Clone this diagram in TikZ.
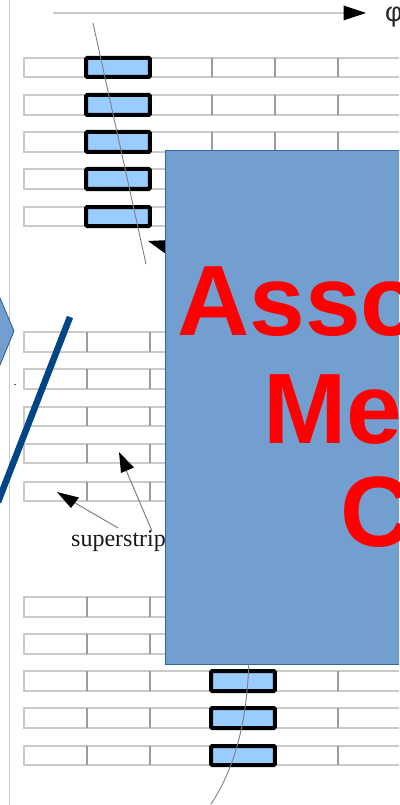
\documentclass[tikz,border=0pt]{standalone}
\usepackage{fontspec}
\setmainfont{Liberation Serif}
\newfontfamily\redsans{Liberation Sans}
\definecolor{panel}{HTML}{729FCF}
\definecolor{panelline}{HTML}{3465A4}
\definecolor{deepblue}{HTML}{004586}
\definecolor{hit}{HTML}{99CCFF}
\definecolor{gridh}{HTML}{CACACA}
\definecolor{gridv}{HTML}{9C9C9C}
\tikzset{
  x=1pt,y=-1pt,
  rowline/.style={draw=gridh,line width=1.1pt},
  cellline/.style={draw=gridv,line width=1.2pt},
  hitbox/.style={draw=black,fill=hit,line width=4pt,rounded corners=1pt},
  trackline/.style={draw=gray,line width=0.9pt},
  tiptri/.style={fill=black,draw=none},
  bigred/.style={text=red,font=\redsans\bfseries\fontsize{100}{100}\selectfont,anchor=base west,inner sep=0pt},
}
\begin{document}
\begin{tikzpicture}
\useasboundingbox (0,0) rectangle (399,805);
\clip (0,0) rectangle (399,805);
\fill[white] (0,0) rectangle (399,805);
% page edge
\draw[draw=gridh,line width=0.9pt] (9.5,0) -- (9.5,805);
% phi axis
\coordinate (axisL) at (53,13);
\coordinate (axisR) at (345,13);
\draw[rowline] (axisL) -- (axisR);
\fill[tiptri] (343.5,5.5) -- (366,13) -- (343.5,20.5) -- cycle;
\node[anchor=base west,inner sep=0pt,font=\redsans\fontsize{27}{27}\selectfont,text=black!85] (phi) at (385,22) {φ};
% strip rows
\foreach \ya/\yb in {58/77,95/115,132/152,169/189,207/226,332/352,369/389,407/426,444/463,482/501,597/617,634/654,671/691,708/728,746/765}{
  \draw[rowline] (400,\ya) -- (24,\ya) -- (24,\yb) -- (400,\yb);
  \foreach \xv in {87,150,212,275,338}{
    \draw[cellline] (\xv,\ya) -- (\xv,\yb);
  }
}
% highlighted superstrips, upper layers
\foreach \ya/\yb in {58/77,95/115,132/152,169/189,207/226}{
  \draw[hitbox] (86.2,\ya) rectangle (149.8,\yb);
}
% highlighted superstrips, lower layers
\foreach \ya/\yb in {671/691,708/728,746/765}{
  \draw[hitbox] (211.2,\ya) rectangle (274.8,\yb);
}
% tracks
\draw[trackline] (93,23) -- (146,264);
\draw[trackline] (249,655) .. controls (248,715) and (237,765) .. (211,804);
% arrows to superstrips
\node[anchor=base west,inner sep=0pt,font=\fontsize{24}{24}\selectfont,text=black!90] (sslabel) at (71,546) {superstrip};
\coordinate (a1s) at (118,528);
\coordinate (a1e) at (70,500);
\coordinate (a2s) at (152,531);
\coordinate (a2e) at (126,470);
\draw[trackline,line width=1pt] (a1s) -- (a1e);
\draw[trackline,line width=1pt] (a2s) -- (a2e);
\fill[tiptri] (57,492) -- (79,497.5) -- (71,508) -- cycle;
\fill[tiptri] (119,452) -- (134,467.5) -- (121,473) -- cycle;
\fill[tiptri] (148,241) -- (170,240) -- (170,257) -- cycle;
% overlay panel
\draw[draw=panelline,fill=panel,line width=0.9pt] (165.5,150) rectangle (402,664);
\node[bigred] (l1) at (177,335) {Asso};
\node[bigred] (l2) at (263,443) {Me};
\node[bigred] (l3) at (340,546) {C};
% left callout and slanted line
\draw[draw=panelline,fill=panel,line width=0.9pt] (-5,298) -- (0,298) -- (14,331) -- (0,365) -- (-5,365) -- cycle;
\draw[draw=panelline,line width=0.5pt] (14,384.5) -- (16,384.5);
\draw[draw=deepblue,line width=6.5pt] (70,317) -- (-2,502);
\end{tikzpicture}
\end{document}
